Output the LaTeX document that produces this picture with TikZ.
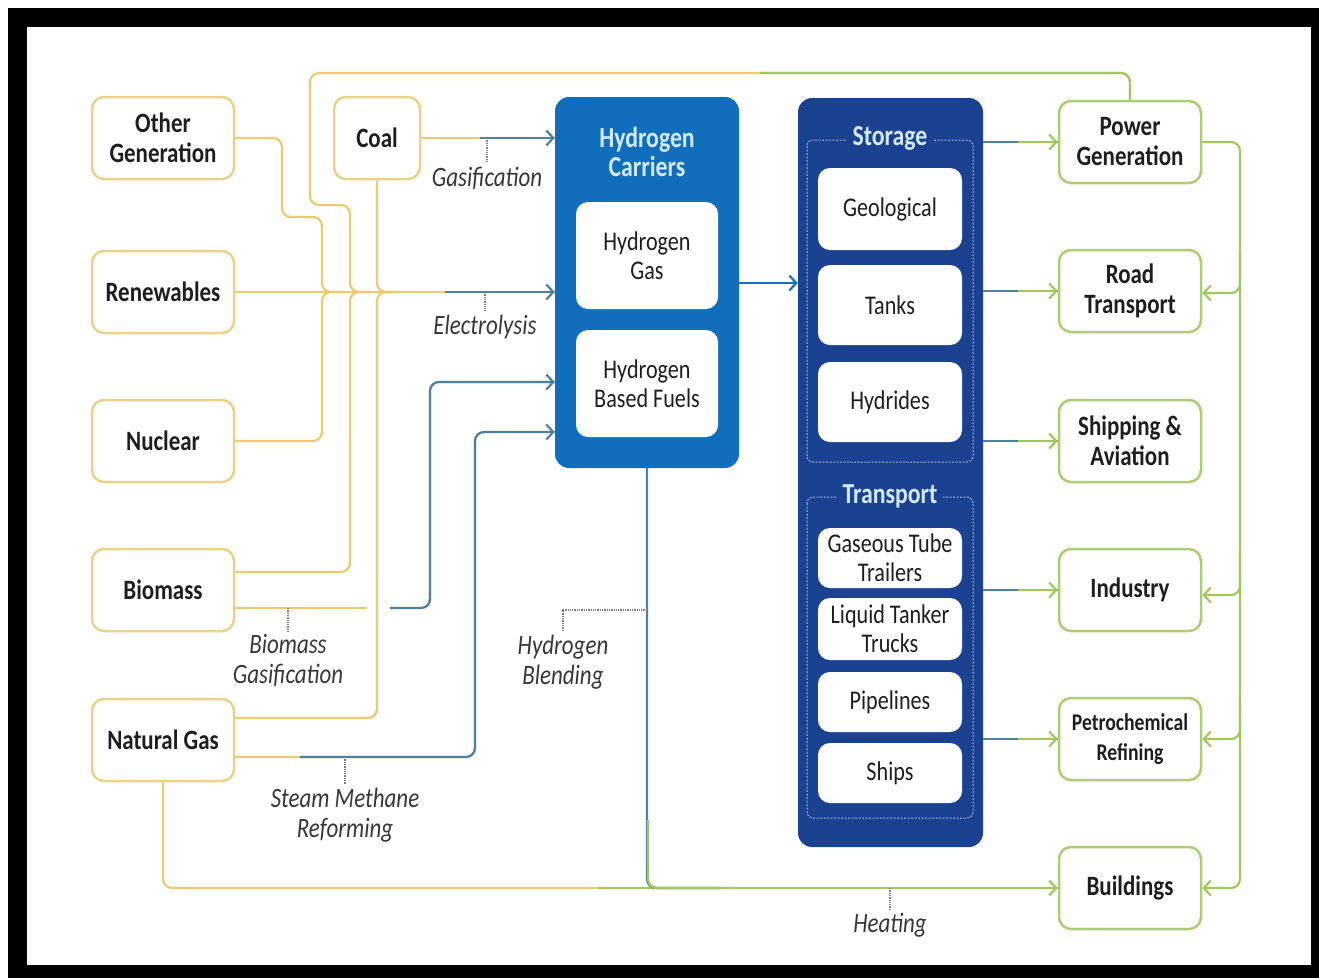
\documentclass[tikz,border=0pt]{standalone}
\usepackage{fontspec}
\setmainfont{Carlito}[FakeStretch=0.82]
\usepackage{tikz}
\usepackage{xcolor}
\usetikzlibrary{arrows.meta, positioning, backgrounds, calc}
\definecolor{goldline}{RGB}{236,202,110}
\definecolor{goldedge}{RGB}{233,210,140}
\definecolor{greenline}{RGB}{160,200,95}
\definecolor{greenedge}{RGB}{172,205,118}
\definecolor{steelline}{RGB}{78,128,160}
\definecolor{carrierblue}{RGB}{16,110,188}
\definecolor{storenavy}{RGB}{27,66,145}
\definecolor{titletext}{RGB}{212,234,250}
\definecolor{inktext}{RGB}{30,30,30}
\definecolor{notetext}{RGB}{55,55,55}
\tikzstyle{source} = [rectangle, draw=goldedge, line width=2.5pt, fill=white, rounded corners=12pt, minimum width=142pt, minimum height=82pt, inner sep=2pt, align=center, text=inktext, font=\fontsize{28}{30}\selectfont\bfseries]
\tikzstyle{enduse} = [source, draw=greenedge]
\tikzstyle{holder} = [rectangle, fill=white, rounded corners=12pt, minimum width=144pt, inner sep=1pt, align=center, text=inktext, font=\fontsize{27}{29}\selectfont]
\tikzstyle{panel} = [rectangle, rounded corners=14pt, inner sep=0pt]
\tikzstyle{paneltitle} = [align=center, text=titletext, font=\fontsize{29}{29}\selectfont\bfseries]
\tikzstyle{group} = [titletext!70!storenavy, line width=1pt, dash pattern=on 2pt off 1.5pt, rounded corners=6pt]
\tikzstyle{note} = [align=center, text=notetext, font=\fontsize{28}{30}\selectfont\itshape]
\tikzstyle{feed} = [goldline, line width=2.2pt, rounded corners=9pt]
\tikzstyle{tick} = [gray, line width=1.3pt, densely dotted]
\tikzstyle{arrow} = [-{Straight Barb[length=7pt, width=15pt]}]

\begin{document}
\begin{tikzpicture}[x=1pt, y=-1pt]
    \useasboundingbox (0,0) rectangle (1319,978);

    % Sources
    \node[source] (og) at (163,138) {Other\\Generation};
    \node[source, minimum width=86pt] (coal) at (377,138) {Coal};
    \node[source] (renew) at (163,292) {Renewables};
    \node[source] (nuc) at (163,441) {Nuclear};
    \node[source] (bio) at (163,590) {Biomass};
    \node[source] (ng) at (163,740) {Natural Gas};

    % Hydrogen carriers
    \node[panel, fill=carrierblue, minimum width=184pt, minimum height=371pt] (carriers) at (647,282.5) {};
    \node[paneltitle] (cartitle) at (647,152) {Hydrogen\\Carriers};
    \node[holder, minimum width=142pt, minimum height=107pt] (h2gas) at (647,255.5) {Hydrogen\\Gas};
    \node[holder, minimum width=142pt, minimum height=107pt] (h2fuel) at (647,383.5) {Hydrogen\\Based Fuels};

    % Storage and transport
    \node[panel, fill=storenavy, minimum width=185pt, minimum height=749pt] (hub) at (890.5,472.5) {};
    \draw[group] (807,140) rectangle (973,462);
    \draw[group] (807,497) rectangle (973,818);
    \node[paneltitle, fill=storenavy, inner xsep=6pt, inner ysep=1pt] (stortitle) at (890,138) {Storage};
    \node[paneltitle, fill=storenavy, inner xsep=6pt, inner ysep=1pt] (tratitle) at (890,496) {Transport};
    \node[holder, minimum height=82pt] (geo) at (890,209) {Geological};
    \node[holder, minimum height=80pt] (tanks) at (890,305) {Tanks};
    \node[holder, minimum height=80pt] (hydr) at (890,402) {Hydrides};
    \node[holder, minimum height=60pt] (tube) at (890,558) {Gaseous Tube\\Trailers};
    \node[holder, minimum height=62pt] (tanker) at (890,629) {Liquid Tanker\\Trucks};
    \node[holder, minimum height=60pt] (pipes) at (890,702) {Pipelines};
    \node[holder, minimum height=60pt] (ships) at (890,773) {Ships};

    % End uses
    \node[enduse] (pg) at (1130,142) {Power\\Generation};
    \node[enduse] (road) at (1130,291) {Road\\Transport};
    \node[enduse] (ship) at (1130,441) {Shipping \&\\Aviation};
    \node[enduse] (ind) at (1130,590) {Industry};
    \node[enduse, font=\fontsize{24}{30}\selectfont\bfseries] (petro) at (1130,739) {Petrochemical\\Refining};
    \node[enduse] (bld) at (1130,888) {Buildings};

    % Process labels
    \node[note] (gasnote) at (487,178) {Gasification};
    \node[note] (elnote) at (485,327) {Electrolysis};
    \node[note] (bmnote) at (288,661) {Biomass\\Gasification};
    \node[note] (smrnote) at (345,815) {Steam Methane\\Reforming};
    \node[note] (blnote) at (563,662) {Hydrogen\\Blending};
    \node[note] (heatnote) at (890,925) {Heating};

    \begin{scope}[on background layer]
        % frame
        \fill[black] (8,8) rectangle (1319,978);
        \fill[white] (27,27) rectangle (1311,965);

        % biomass gasification
        \draw[feed] ([yshift=-18pt]bio.east) -- (430,608) -- (430,382) -- (carriers.west |- 0,382);
        \draw[feed, steelline, arrow] (390,608) -- (430,608) -- (430,382) -- (carriers.west |- 0,382);
        \fill[white] (367,600) rectangle (390,616);

        % steam methane reforming
        \draw[feed] ([yshift=-17pt]ng.east) -- (475,757) -- (475,432) -- (carriers.west |- 0,432);
        \draw[feed, steelline, arrow] (300,757) -- (475,757) -- (475,432) -- (carriers.west |- 0,432);

        % into electrolysis
        \draw[feed] (pg.north) -- (1130,73) -- (310,73) -- (310,205) -- (350,205) -- (350,292) -- (372,292);
        \draw[feed, greenline] (pg.north) -- (1130,73) -- (760,73);
        \draw[feed] (og.east) -- (282,138) -- (282,217) -- (322,217) -- (322,292) -- (345,292);
        \draw[feed] (nuc.east) -- (322,441) -- (322,292) -- (345,292);
        \draw[feed] ([yshift=18pt]bio.east) -- (350,572) -- (350,292) -- (372,292);
        \draw[feed] (coal.south) -- (377,292) -- (400,292);
        \draw[feed] ([yshift=22pt]ng.east) -- (377,718) -- (377,292) -- (400,292);
        \draw[feed] (renew.east) -- (carriers.west |- renew.east);
        \draw[feed, steelline, arrow] ($(carriers.west |- renew.east)+(-110,0)$) -- (carriers.west |- renew.east);

        % gasification
        \draw[feed] (coal.east) -- (carriers.west |- coal.east);
        \draw[feed, steelline, arrow] ($(carriers.west |- coal.east)+(-75,0)$) -- (carriers.west |- coal.east);

        % carriers to storage
        \draw[feed, carrierblue!80!steelline, arrow] (carriers.east |- 0,283) -- (hub.west |- 0,283);

        % heating and blending
        \draw[feed] (ng.south) |- (bld.west);
        \draw[feed, greenline, arrow] ($(bld.west)+(-460,0)$) -- (bld.west);
        \draw[feed, steelline] (carriers.south) |- (720,888);
        \draw[feed, greenline] (648,820) |- (720,888);

        % storage to end uses
        \draw[feed, steelline] (hub.east |- pg.west) -- (pg.west);
        \draw[feed, greenline, arrow] ($(pg.west)+(-40,0)$) -- (pg.west);
        \draw[feed, steelline] (hub.east |- road.west) -- (road.west);
        \draw[feed, greenline, arrow] ($(road.west)+(-40,0)$) -- (road.west);
        \draw[feed, steelline] (hub.east |- ship.west) -- (ship.west);
        \draw[feed, greenline, arrow] ($(ship.west)+(-40,0)$) -- (ship.west);
        \draw[feed, steelline] (hub.east |- ind.west) -- (ind.west);
        \draw[feed, greenline, arrow] ($(ind.west)+(-40,0)$) -- (ind.west);
        \draw[feed, steelline] (hub.east |- petro.west) -- (petro.west);
        \draw[feed, greenline, arrow] ($(petro.west)+(-40,0)$) -- (petro.west);

        % power generation to other end uses
        \draw[feed, greenline, arrow] (pg.east) -- (1240,142) -- (1240,888) -- (bld.east);
        \draw[feed, greenline, arrow] (1240,250) -- (1240,293) -- (road.east |- 0,293);
        \draw[feed, greenline, arrow] (1240,550) -- (1240,595) -- (ind.east |- 0,595);
        \draw[feed, greenline, arrow] (1240,700) -- (1240,739) -- (petro.east);

        % label ticks
        \draw[tick] (gasnote.north |- coal.east) -- (gasnote.north);
        \draw[tick] (elnote.north |- renew.east) -- (elnote.north);
        \draw[tick] (bmnote.north |- 0,608) -- (bmnote.north);
        \draw[tick] (smrnote.north |- 0,757) -- (smrnote.north);
        \draw[tick] (carriers.south |- 0,610) -- (blnote.north |- 0,610) -- (blnote.north);
        \draw[tick] (heatnote.north |- bld.west) -- (heatnote.north);
    \end{scope}
\end{tikzpicture}
\end{document}
